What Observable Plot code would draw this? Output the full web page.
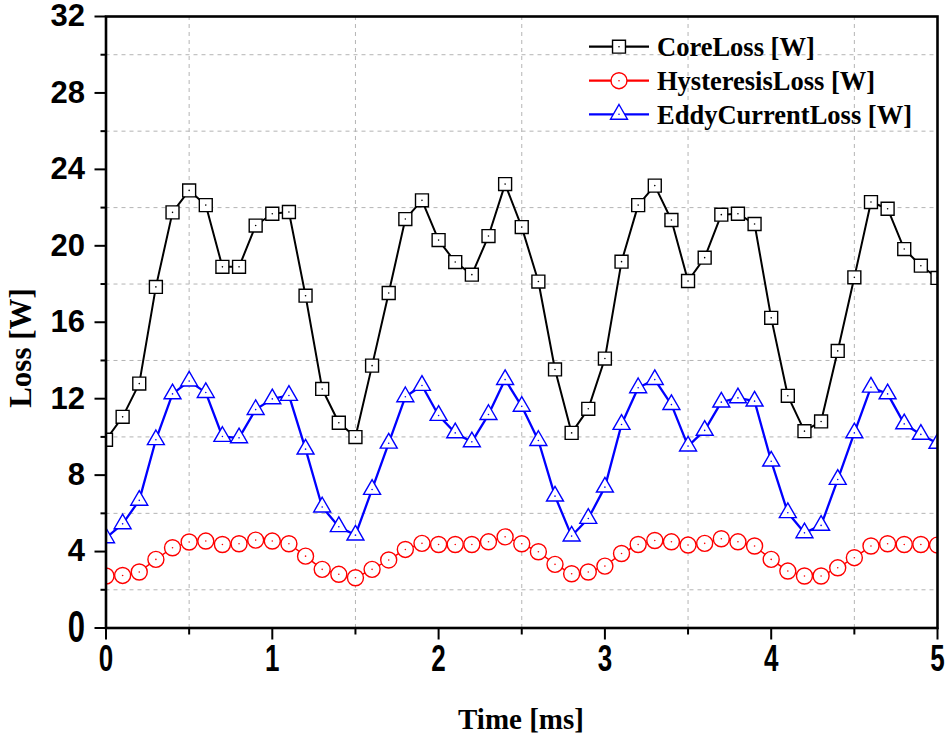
<!DOCTYPE html>
<html><head><meta charset="utf-8">
<script src="https://cdn.jsdelivr.net/npm/d3@7"></script>
<script src="https://cdn.jsdelivr.net/npm/@observablehq/plot@0.6"></script>
<style>body{margin:0;background:#fff}#chart{position:relative;width:950px;height:739px}</style>
</head><body><div id="chart"></div>
<script>
const time = [0,0.1,0.2,0.3,0.4,0.5,0.6,0.7,0.8,0.9,1.0,1.1,1.2,1.3,1.4,1.5,1.6,1.7,1.8,1.9,2.0,2.1,2.2,2.3,2.4,2.5,2.6,2.7,2.8,2.9,3.0,3.1,3.2,3.3,3.4,3.5,3.6,3.7,3.8,3.9,4.0,4.1,4.2,4.3,4.4,4.5,4.6,4.7,4.8,4.9,5.0];
const coreLoss = [9.85,11.05,12.79,17.85,21.75,22.9,22.13,18.9,18.9,21.06,21.68,21.77,17.39,12.51,10.74,9.99,13.73,17.53,21.4,22.38,20.3,19.15,18.49,20.51,23.23,20.98,18.13,13.53,10.21,11.47,14.1,19.17,22.13,23.15,21.35,18.16,19.38,21.63,21.68,21.14,16.23,12.15,10.3,10.81,14.5,18.35,22.29,21.94,19.83,18.96,18.32];
const hysteresisLoss = [2.72,2.75,2.93,3.59,4.2,4.5,4.55,4.37,4.41,4.6,4.55,4.41,3.76,3.07,2.81,2.63,3.07,3.56,4.11,4.43,4.37,4.37,4.37,4.51,4.77,4.41,3.99,3.33,2.84,2.93,3.24,3.9,4.37,4.58,4.51,4.34,4.43,4.67,4.51,4.29,3.59,2.98,2.72,2.72,3.15,3.68,4.29,4.41,4.37,4.37,4.34];
const eddyCurrentLoss = [4.72,5.45,6.68,9.85,12.25,12.92,12.32,10.02,9.95,11.43,11.99,12.17,9.36,6.33,5.3,4.86,7.25,9.67,12.1,12.69,11.12,10.21,9.74,11.17,13.0,11.6,9.81,6.9,4.81,5.73,7.37,10.65,12.57,13.0,11.69,9.52,10.34,11.82,12.04,11.87,8.73,6.03,4.98,5.37,7.77,10.21,12.6,12.25,10.68,10.13,9.66];
const seriesNames = ["CoreLoss [W]","HysteresisLoss [W]","EddyCurrentLoss [W]"];
const seriesColors = ["#000000","#ff0000","#0000ff"];
const seriesSymbols = ["square","circle","triangle"];
const yMajorTicks = [0,4,8,12,16,20,24,28,32];
const yMinorTicks = [2,6,10,14,18,22,26,30];
const xMajorTicks = [0,1,2,3,4,5];
const xMinorTicks = [0.5,1.5,2.5,3.5,4.5];
const xTitle = "Time [ms]";
const yTitle = "Loss [W]";

const seriesValues = [coreLoss, hysteresisLoss, eddyCurrentLoss];
const lineWidths = [2, 1.5, 2.3];
const markerR = [7.3, 8, 6.3];
const rowsFor = i => time.map((t, j) => ({time: t, loss: seriesValues[i][j]}));

const seriesMarks = seriesNames.flatMap((name, i) => {
  const rows = rowsFor(i);
  return [
    Plot.line(rows, {x: "time", y: "loss", stroke: seriesColors[i], strokeWidth: lineWidths[i], clip: true}),
    Plot.dot(rows, {x: "time", y: "loss", symbol: () => seriesSymbols[i], r: markerR[i], stroke: seriesColors[i], fill: "white", strokeWidth: 1.4, clip: true}),
    Plot.dot(rows, {x: "time", y: "loss", r: 0.8, fill: seriesColors[i], stroke: "none", clip: true})
  ];
});

const serif = "'Liberation Serif','Times New Roman',serif";

const chart = Plot.plot({
  width: 950,
  height: 739,
  marginLeft: 105.5,
  marginRight: 13,
  marginTop: 16,
  marginBottom: 111.5,
  x: {domain: [0, 5], axis: null},
  y: {domain: [0, 32], axis: null},
  symbol: {type: "identity"},
  style: {background: "white", overflow: "visible"},
  marks: [
    Plot.gridX(xMinorTicks, {stroke: "#b4b4b4", strokeOpacity: 1, strokeDasharray: "4,4", strokeWidth: 1}),
    Plot.gridY(yMinorTicks, {stroke: "#b4b4b4", strokeOpacity: 1, strokeDasharray: "4,4", strokeWidth: 1}),
    ...seriesMarks,
    Plot.axisY(yMajorTicks, {tickSize: 11, tickPadding: 10, strokeWidth: 2, label: null, fontSize: 31, fontWeight: "bold", fontFamily: "'Liberation Sans',Arial,sans-serif", fill: "black"}),
    Plot.axisY(yMinorTicks, {tickSize: 5, strokeWidth: 2, label: null, tickFormat: () => ""}),
    Plot.axisX(xMajorTicks, {tickSize: 12, tickPadding: 5, strokeWidth: 2, label: null, tickFormat: d3.format("d"), fontSize: 26, fontWeight: "bold", fontFamily: "'Liberation Sans',Arial,sans-serif", fill: "black"}),
    Plot.axisX(xMinorTicks, {tickSize: 7, strokeWidth: 2, label: null, tickFormat: () => ""}),
    Plot.frame({stroke: "black", strokeWidth: 2.6})
  ]
});

document.getElementById("chart").appendChild(chart);
const svg = d3.select(chart);

// stretch x tick labels vertically like the reference
svg.selectAll("text").filter(function() {
  return this.textContent.length === 1 && this.getAttribute("transform") && /translate\([^,]+,6[0-9]{2}/.test(this.getAttribute("transform"));
}).each(function() {
  const t = this.getAttribute("transform");
  this.setAttribute("transform", t + " scale(1,1.42)");
});

// axis titles
svg.append("text").attr("transform", "translate(31,348) rotate(-90)")
  .attr("text-anchor", "middle").attr("font-family", serif).attr("font-weight", "bold")
  .attr("font-size", 31).attr("fill", "black").text(yTitle);
svg.append("text").attr("x", 521).attr("y", 729)
  .attr("text-anchor", "middle").attr("font-family", serif).attr("font-weight", "bold")
  .attr("font-size", 29).attr("fill", "black").text(xTitle);

// Legend
const leg = svg.append("g").attr("class", "legend");
const rowY = [46.7, 80.7, 114.3];
seriesNames.forEach((name, i) => {
  const g = leg.append("g").attr("transform", `translate(0,${rowY[i]})`);
  g.append("line").attr("x1", 589).attr("x2", 649).attr("y1", 0).attr("y2", 0)
    .attr("stroke", seriesColors[i]).attr("stroke-width", 2.2);
  const r = markerR[i];
  const sym = {square: d3.symbolSquare, circle: d3.symbolCircle, triangle: d3.symbolTriangle}[seriesSymbols[i]];
  g.append("path").attr("d", d3.symbol(sym, Math.PI * r * r)()).attr("transform", "translate(619,0)")
    .attr("fill", "white").attr("stroke", seriesColors[i]).attr("stroke-width", 1.4);
  g.append("circle").attr("cx", 619).attr("cy", 0).attr("r", 0.8).attr("fill", seriesColors[i]);
  g.append("text").attr("x", 657).attr("y", 0).attr("dy", "0.35em").attr("text-anchor", "start")
    .attr("font-family", serif).attr("font-weight", "bold")
    .attr("font-size", 26.5).attr("fill", "black").text(name);
});
</script>
</body></html>
